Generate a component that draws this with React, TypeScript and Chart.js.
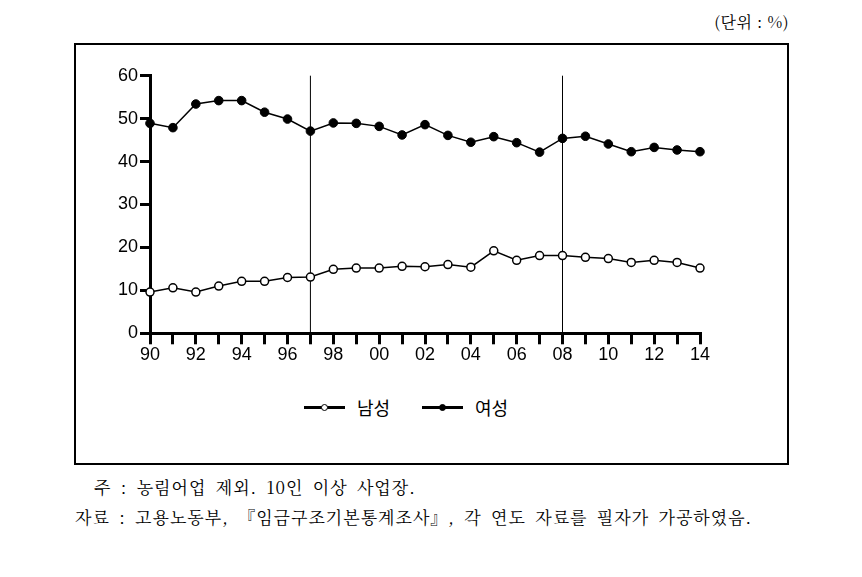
import React, { useEffect, useRef } from "react";
import { Chart, registerables } from "chart.js";

Chart.register(...registerables);

const years = [1990, 1991, 1992, 1993, 1994, 1995, 1996, 1997, 1998, 1999, 2000, 2001, 2002, 2003, 2004, 2005, 2006, 2007, 2008, 2009, 2010, 2011, 2012, 2013, 2014];
const xTickLabels = ["90", "", "92", "", "94", "", "96", "", "98", "", "00", "", "02", "", "04", "", "06", "", "08", "", "10", "", "12", "", "14"];
const menValues = [9.6, 10.6, 9.6, 11.0, 12.1, 12.1, 13.0, 13.1, 14.9, 15.2, 15.2, 15.6, 15.5, 16.0, 15.4, 19.2, 17.0, 18.1, 18.1, 17.7, 17.4, 16.5, 17.0, 16.5, 15.2];
const womenValues = [48.9, 47.9, 53.4, 54.2, 54.2, 51.5, 49.9, 47.1, 49.0, 48.9, 48.2, 46.2, 48.6, 46.1, 44.5, 45.8, 44.4, 42.2, 45.4, 45.9, 44.1, 42.3, 43.3, 42.7, 42.3];
const markerYears = [1997, 2008];
const yTicks = [0, 10, 20, 30, 40, 50, 60];
const seriesNames = ["남성", "여성"];
const unitText = "(단위 : %)";
const noteText = "주 : 농림어업 제외. 10인 이상 사업장.";
const sourceText = "자료 : 고용노동부, 『임금구조기본통계조사』, 각 연도 자료를 필자가 가공하였음.";

const CANVAS_W = 711;
const CANVAS_H = 330;

export default function App() {
  const ref = useRef<HTMLCanvasElement | null>(null);

  useEffect(() => {
    if (!ref.current) return;
    const yMax = yTicks[yTicks.length - 1];
    const vlineSets = markerYears.map((yr) => ({
      type: "line" as const,
      data: [
        { x: yr, y: yTicks[0] },
        { x: yr, y: yMax },
      ],
      borderColor: "#000",
      borderWidth: 1,
      pointRadius: 0,
      order: 10,
      clip: false as any,
    }));
    const tickFont = { family: "'Liberation Sans', Arial, sans-serif", size: 18 };
    const chart = new Chart(ref.current, {
      type: "line",
      data: {
        datasets: [
          {
            label: seriesNames[0],
            data: years.map((y, i) => ({ x: y, y: menValues[i] })),
            borderColor: "#000",
            borderWidth: 1.5,
            pointRadius: 4,
            pointBorderWidth: 1.5,
            pointBackgroundColor: "#fff",
            pointBorderColor: "#000",
            order: 1,
            clip: false as any,
          },
          {
            label: seriesNames[1],
            data: years.map((y, i) => ({ x: y, y: womenValues[i] })),
            borderColor: "#000",
            borderWidth: 1.5,
            pointRadius: 4.3,
            pointBorderWidth: 1,
            pointBackgroundColor: "#000",
            pointBorderColor: "#000",
            order: 1,
            clip: false as any,
          },
          ...vlineSets,
        ] as any,
      },
      options: {
        responsive: false,
        animation: false,
        layout: { padding: { top: 30.7, right: 87, left: 0, bottom: 0 } },
        plugins: { legend: { display: false }, tooltip: { enabled: false } },
        scales: {
          x: {
            type: "linear",
            min: years[0],
            max: years[years.length - 1],
            afterFit: (s: any) => {
              s.height = CANVAS_H - 288.3;
            },
            afterBuildTicks: (s: any) => {
              s.ticks = years.map((v) => ({ value: v }));
            },
            ticks: {
              autoSkip: false,
              maxRotation: 0,
              padding: 0,
              color: "#000",
              font: tickFont,
              callback: (v: any) => {
                const idx = years.indexOf(Number(v));
                return idx >= 0 ? xTickLabels[idx] : "";
              },
            },
            grid: {
              display: true,
              drawOnChartArea: false,
              drawTicks: true,
              tickLength: 11,
              tickWidth: 3,
              lineWidth: 3,
              color: "#000",
            },
            border: { display: true, width: 3, color: "#000" },
          },
          y: {
            min: yTicks[0],
            max: yMax,
            afterFit: (s: any) => {
              s.width = 74;
            },
            afterBuildTicks: (s: any) => {
              s.ticks = yTicks.map((v) => ({ value: v }));
            },
            ticks: {
              padding: 2,
              color: "#000",
              font: tickFont,
            },
            grid: {
              display: true,
              drawOnChartArea: false,
              drawTicks: true,
              tickLength: 10,
              tickWidth: 3,
              lineWidth: 3,
              color: "#000",
            },
            border: { display: true, width: 3, color: "#000" },
          },
        },
      },
    });
    return () => chart.destroy();
  }, []);

  const serif = "'Noto Serif CJK KR', 'Noto Sans CJK KR', serif";
  const sans = "'Noto Sans CJK KR', sans-serif";

  const legendItem = (name: string, filled: boolean, left: number) => (
    <div style={{ position: "absolute", left, top: 394, height: 26, display: "flex", alignItems: "center" }}>
      <div style={{ position: "relative", width: 41, height: 26 }}>
        <div style={{ position: "absolute", left: 0, top: 11.5, width: 41, height: 3, background: "#000" }} />
        <div
          style={{
            position: "absolute",
            left: 20.5 - 3.5,
            top: 13 - 3.5,
            width: 7,
            height: 7,
            boxSizing: "border-box",
            borderRadius: "50%",
            border: "1.5px solid #000",
            background: filled ? "#000" : "#fff",
          }}
        />
      </div>
      <span style={{ marginLeft: 12, fontFamily: sans, fontSize: 18, color: "#000", lineHeight: "26px" }}>{name}</span>
    </div>
  );

  const footStyle: React.CSSProperties = {
    position: "absolute",
    fontFamily: serif,
    fontSize: 17,
    color: "#000",
    lineHeight: "24px",
    whiteSpace: "nowrap",
    letterSpacing: 1,
    wordSpacing: 4,
  };

  return (
    <div style={{ position: "absolute", left: 0, top: 0, width: 862, height: 577, background: "#fff" }}>
      <div style={{ position: "absolute", right: 862 - 789, top: 10, fontFamily: serif, fontSize: 16, color: "#000", lineHeight: "24px", letterSpacing: 0.5 }}>
        {unitText}
      </div>
      <div
        style={{
          position: "absolute",
          left: 74,
          top: 43,
          width: 715,
          height: 422,
          boxSizing: "border-box",
          border: "2px solid #000",
        }}
      />
      <canvas
        ref={ref}
        width={CANVAS_W}
        height={CANVAS_H}
        style={{ position: "absolute", left: 76, top: 45, width: CANVAS_W, height: CANVAS_H }}
      />
      {legendItem(seriesNames[0], false, 304)}
      {legendItem(seriesNames[1], true, 422)}
      <div style={{ ...footStyle, left: 94, top: 475 }}>{noteText}</div>
      <div style={{ ...footStyle, left: 75, top: 505 }}>{sourceText}</div>
    </div>
  );
}
